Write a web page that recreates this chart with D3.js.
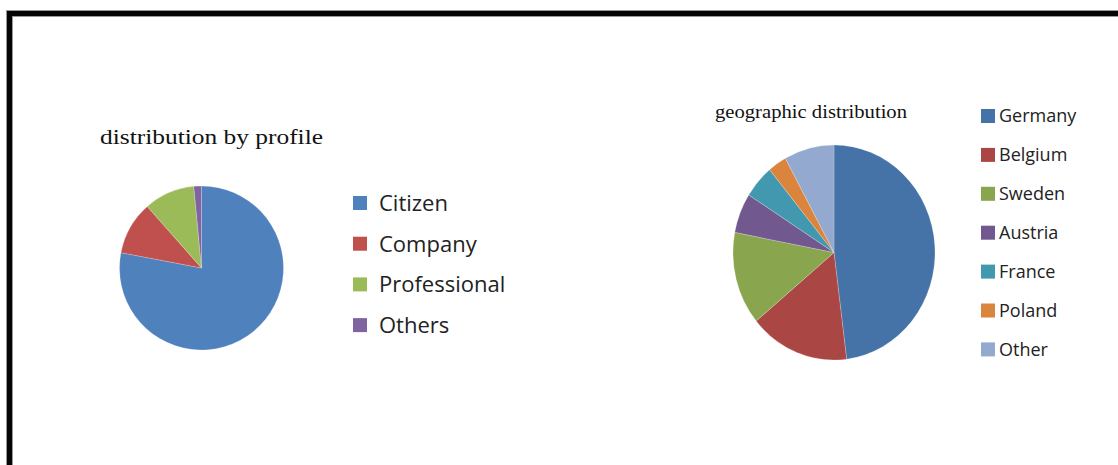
<!DOCTYPE html>
<html>
<head>
<meta charset="utf-8">
<script src="https://cdn.jsdelivr.net/npm/d3@7/dist/d3.min.js"></script>
<style>
  html, body { margin: 0; padding: 0; background: #fff; }
  svg { display: block; }
</style>
</head>
<body>
<script>
// ---- Data ----
const profileCategories = ["Citizen", "Company", "Professional", "Others"];
const profileValues = [78, 10.5, 10, 1.5];
const profileColors = ["#4F81BD", "#C0504D", "#9BBB59", "#8064A2"];

const geoCategories = ["Germany", "Belgium", "Sweden", "Austria", "France", "Poland", "Other"];
const geoValues = [48, 16, 14, 6, 5, 3, 8];
const geoColors = ["#4572A7", "#AA4643", "#89A54E", "#71588F", "#4198AF", "#DB843D", "#93A9CF"];

const titles = ["distribution by profile", "geographic distribution"];

// ---- Canvas ----
const W = 1118, H = 465;
const svg = d3.select("body").append("svg").attr("width", W).attr("height", H);

// Frame (thick black border on top and left, running off the picture)
const frame = svg.append("g");
frame.append("rect").attr("x", 6).attr("y", 10).attr("width", W).attr("height", 7).attr("fill", "#999");
frame.append("rect").attr("x", 6).attr("y", 10).attr("width", 7).attr("height", H).attr("fill", "#999");
frame.append("rect").attr("x", 7).attr("y", 11).attr("width", W).attr("height", 5).attr("fill", "#050505");
frame.append("rect").attr("x", 7).attr("y", 11).attr("width", 5).attr("height", H).attr("fill", "#050505");

function drawPie(opts) {
  const { cats, vals, colors, cx, cy, rx, ry } = opts;
  const data = cats.map((c, i) => ({ cat: c, value: vals[i], color: colors[i] }));
  const pie = d3.pie().value(d => d.value).sort(null);
  const arc = d3.arc().innerRadius(0).outerRadius(rx);
  const g = svg.append("g")
    .attr("transform", `translate(${cx},${cy}) scale(1,${ry / rx})`);
  g.selectAll("path").data(pie(data)).join("path")
    .attr("d", arc)
    .attr("fill", d => d.data.color)
    .attr("stroke", "#ffffff")
    .attr("stroke-opacity", 0.35)
    .attr("stroke-width", 0.6);
}

function drawLegend(opts) {
  const { cats, colors, x, y0, step, sq, fontSize, gap } = opts;
  const y = d3.scalePoint().domain(cats).range([y0, y0 + step * (cats.length - 1)]);
  const g = svg.append("g");
  const items = g.selectAll("g").data(cats).join("g")
    .attr("transform", d => `translate(${x},${y(d)})`);
  items.append("rect")
    .attr("x", 0).attr("y", -sq / 2).attr("width", sq).attr("height", sq)
    .attr("fill", (d, i) => colors[i]);
  items.append("text")
    .attr("x", sq + gap).attr("y", 0).attr("dy", "0.36em")
    .attr("font-family", "'Open Sans', 'Noto Sans', sans-serif")
    .attr("font-size", fontSize)
    .attr("fill", "#222")
    .text(d => d);
}

// Left chart
svg.append("text")
  .attr("x", 100).attr("y", 144)
  .attr("font-family", "'Liberation Serif', 'DejaVu Serif', serif")
  .attr("font-size", 22)
  .attr("textLength", 223).attr("lengthAdjust", "spacingAndGlyphs")
  .attr("fill", "#111")
  .text(titles[0]);

drawPie({ cats: profileCategories, vals: profileValues, colors: profileColors,
  cx: 201.5, cy: 268, rx: 82, ry: 82 });

drawLegend({ cats: profileCategories, colors: profileColors,
  x: 353, y0: 203, step: 40.7, sq: 14, fontSize: 22, gap: 12 });

// Right chart
svg.append("text")
  .attr("x", 715).attr("y", 118)
  .attr("font-family", "'Liberation Serif', 'DejaVu Serif', serif")
  .attr("font-size", 18)
  .attr("textLength", 192).attr("lengthAdjust", "spacingAndGlyphs")
  .attr("fill", "#111")
  .text(titles[1]);

drawPie({ cats: geoCategories, vals: geoValues, colors: geoColors,
  cx: 834, cy: 252.5, rx: 101, ry: 107.5 });

drawLegend({ cats: geoCategories, colors: geoColors,
  x: 981, y0: 116, step: 38.9, sq: 14, fontSize: 18, gap: 4 });
</script>
</body>
</html>
